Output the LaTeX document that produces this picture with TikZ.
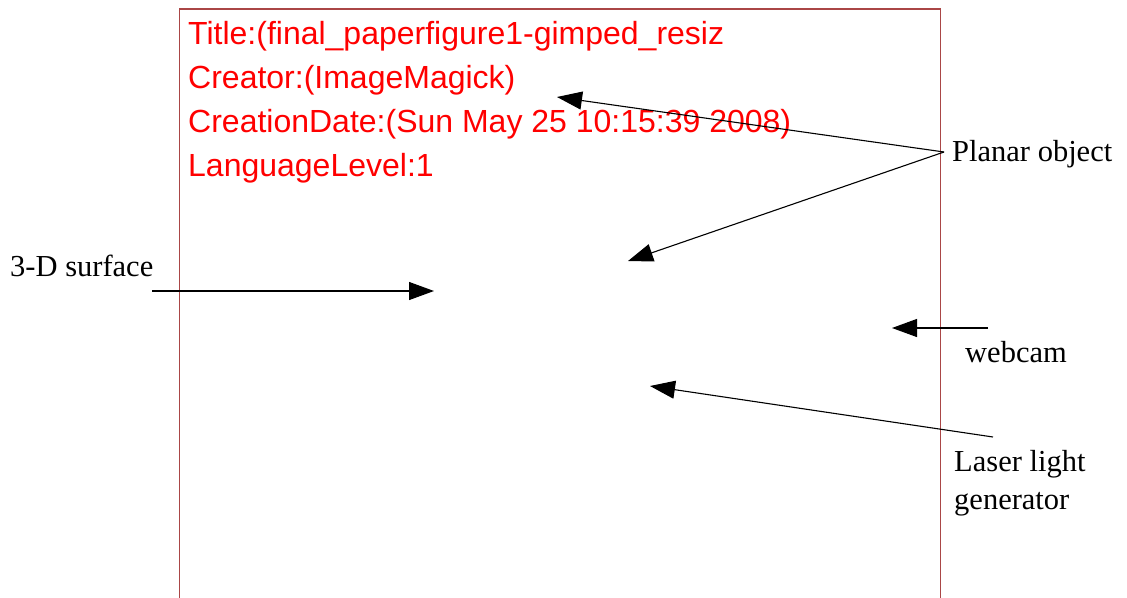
\documentclass[tikz,border=0pt]{standalone}
\usepackage{fontspec}
\setmainfont{Liberation Serif}
\newfontfamily\arialfont{Liberation Sans}
\usetikzlibrary{arrows.meta}
\definecolor{framecol}{RGB}{170,70,70}
\definecolor{txtred}{RGB}{255,0,0}
\tikzset{
  lbl/.style={anchor=base west, inner sep=0pt, font=\fontsize{30.5}{34}\selectfont},
  meta/.style={anchor=base west, inner sep=0pt, text=txtred, font=\arialfont\fontsize{32}{36}\selectfont},
  pointer/.style={line width=1.1pt, -{Triangle[length=25pt,width=18pt]}},
}
\begin{document}
\begin{tikzpicture}[x=1pt,y=-1pt]
\useasboundingbox (0,0) rectangle (1127,597);
\fill[white] (0,0) rectangle (1127,597);
% frame
\draw[framecol, line width=1.8pt] (179.5,600) -- (179.5,9) -- (940.5,9) -- (940.5,600);
% metadata text
\node[meta] (t1) at (188,44) {Title:(final\_paperfigure1-gimped\_resiz};
\node[meta] (t2) at (188,88) {Creator:(ImageMagick)};
\node[meta] (t3) at (188,132) {CreationDate:(Sun May 25 10:15:39 2008)};
\node[meta] (t4) at (188,176) {LanguageLevel:1};
% labels
\node[lbl] (planar) at (952,161) {Planar object};
\node[lbl] (surf) at (10,276) {3-D surface};
\node[lbl] (webcam) at (965,362) {webcam};
\node[lbl] (laser) at (954,471) {Laser light};
\node[lbl] (gen) at (954,509) {generator};
% coordinates
\coordinate (pstart) at (944,152);
\coordinate (ptip1) at (557,97);
\coordinate (ptip2) at (628,261);
\coordinate (sstart) at (152,291);
\coordinate (stip) at (434,291);
\coordinate (wstart) at (988,328);
\coordinate (wtip) at (892,328);
\coordinate (lstart) at (993,437);
\coordinate (ltip) at (650,386);
% arrows
\draw[pointer] (pstart) -- (ptip1);
\draw[pointer] (pstart) -- (ptip2);
\draw[pointer] (sstart) -- (stip);
\draw[pointer] (wstart) -- (wtip);
\draw[pointer] (lstart) -- (ltip);
\end{tikzpicture}
\end{document}
